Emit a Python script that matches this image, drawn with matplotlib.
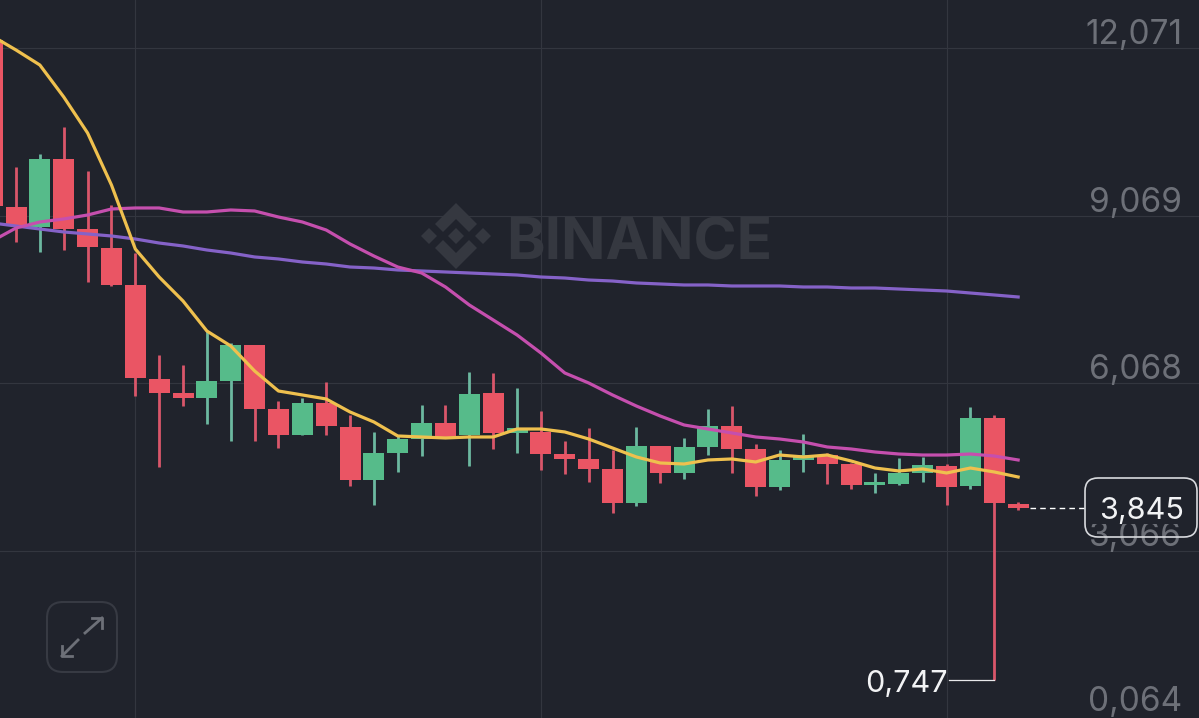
import numpy as np
import matplotlib
matplotlib.use('Agg')
import matplotlib.pyplot as plt
from matplotlib.patches import FancyBboxPatch, Polygon, Rectangle

# candles, oldest first (the first one is cut by the left edge)
opens = [12.223, 9.231, 8.872, 10.091, 8.836, 8.496, 7.833, 6.148, 5.897, 5.808, 6.112,
         6.758, 5.611, 5.145, 5.718, 5.288, 4.338, 4.822, 5.073, 5.360, 5.145, 5.897,
         5.181, 5.199, 4.804, 4.715, 4.536, 3.926, 4.948, 4.464, 4.930, 5.306, 4.894,
         4.213, 4.697, 4.786, 4.625, 4.249, 4.267, 4.464, 4.589, 4.231, 5.449, 3.908]
highs = [12.223, 9.947, 10.180, 10.664, 9.876, 9.266, 8.406, 6.578, 6.399, 7.008, 6.793,
         6.758, 5.754, 5.808, 6.095, 5.503, 5.199, 5.127, 5.682, 5.682, 6.274, 6.256,
         5.987, 5.575, 5.037, 5.270, 4.876, 5.288, 4.948, 5.091, 5.611, 5.664, 4.984,
         4.876, 5.163, 4.822, 4.643, 4.464, 4.733, 4.751, 4.625, 5.647, 5.503, 3.944]
lows = [9.248, 8.603, 8.424, 8.460, 7.887, 7.815, 5.844, 4.571, 5.664, 5.342, 5.037,
        5.037, 4.912, 5.145, 5.145, 4.231, 3.890, 4.482, 4.768, 5.091, 4.589, 4.894,
        4.822, 4.518, 4.446, 4.303, 3.747, 3.872, 4.285, 4.356, 4.786, 4.464, 4.052,
        4.159, 4.482, 4.267, 4.177, 4.105, 4.249, 4.303, 3.890, 4.177, 0.747, 3.801]
closes = [9.248, 8.908, 10.091, 8.836, 8.514, 7.833, 6.166, 5.897, 5.808, 6.112, 6.758,
          5.611, 5.145, 5.718, 5.306, 4.338, 4.822, 5.073, 5.360, 5.109, 5.880, 5.181,
          5.270, 4.804, 4.715, 4.536, 3.926, 4.948, 4.464, 4.930, 5.306, 4.894, 4.213,
          4.697, 4.786, 4.625, 4.249, 4.303, 4.464, 4.607, 4.213, 5.449, 3.926, 3.845]

ma_fast = [12.295, 12.044, 11.775, 11.202, 10.557, 9.625, 8.478, 7.976, 7.546, 7.008, 6.740,
           6.292, 5.933, 5.862, 5.790, 5.557, 5.378, 5.127, 5.109, 5.091, 5.109, 5.109,
           5.252, 5.252, 5.199, 5.073, 4.912, 4.751, 4.643, 4.625, 4.697, 4.715, 4.661,
           4.786, 4.751, 4.786, 4.679, 4.553, 4.500, 4.536, 4.464, 4.553, 4.482, 4.392]
ma_mid = [8.621, 8.854, 8.962, 9.016, 9.087, 9.195, 9.213, 9.213, 9.141, 9.141, 9.177,
          9.159, 9.051, 8.962, 8.818, 8.568, 8.352, 8.155, 8.048, 7.797, 7.474, 7.206,
          6.937, 6.614, 6.256, 6.077, 5.862, 5.664, 5.485, 5.324, 5.252, 5.181, 5.109,
          5.073, 5.019, 4.930, 4.894, 4.840, 4.804, 4.786, 4.786, 4.804, 4.768, 4.697]
ma_slow = [8.944, 8.890, 8.836, 8.783, 8.747, 8.711, 8.657, 8.585, 8.532, 8.460, 8.406,
           8.335, 8.299, 8.245, 8.209, 8.155, 8.137, 8.102, 8.084, 8.066, 8.048, 8.030,
           8.012, 7.976, 7.958, 7.922, 7.904, 7.869, 7.851, 7.833, 7.833, 7.815, 7.815,
           7.815, 7.797, 7.797, 7.779, 7.779, 7.761, 7.743, 7.725, 7.689, 7.654, 7.618]

price_ticks = [12.071, 9.069, 6.068, 3.066, 0.064]
price_labels = ['12,071', '9,069', '6,068', '3,066', '0,064']
last_label = '3,845'
low_label = '0,747'

BG = '#20232c'
GRID = '#33363f'
RED = '#ea5564'
GREEN = '#56bb8a'
RED_WICK = '#d9566a'
GREEN_WICK = '#6cb8a0'

plt.rcParams['font.family'] = ['Inter', 'DejaVu Sans']

fig = plt.figure(figsize=(11.99, 7.18), dpi=100, facecolor=BG)
ax = fig.add_axes([0, 0, 1, 1], facecolor=BG)
ov = fig.add_axes([0, 0, 1, 1], facecolor='none')  # chrome, in image pixels
ov.axis('off')

k = np.arange(len(opens))
o = np.array(opens)
c = np.array(closes)
up = c >= o

ax.vlines(k, lows, highs, colors=[GREEN_WICK if u else RED_WICK for u in up], lw=2.0, zorder=2)
ax.bar(k, np.abs(o - c), bottom=np.minimum(o, c), width=0.88,
       color=[GREEN if u else RED for u in up], zorder=3)

ax.plot(k, ma_slow, color='#8562c8', lw=2.3, zorder=4)
ax.plot(k, ma_mid, color='#c54fae', lw=2.3, zorder=5)
ax.plot(k, ma_fast, color='#efc04e', lw=2.3, zorder=6)

ax.set_xlim(0.329, 50.58)
ax.set_ylim(0.073, 12.94)
ax.set_xticks([6, 23, 40])
ax.set_yticks(price_ticks[:-1])
ax.set_xticklabels([])
ax.set_yticklabels([])
ax.tick_params(length=0)
ax.grid(True, color=GRID, lw=0.8)
ax.set_axisbelow(True)
for s in ax.spines.values():
    s.set_visible(False)

for val, lab in zip(price_ticks, price_labels):
    off = 20 if lab == '0,064' else 17
    ax.annotate(lab, xy=(1, val), xycoords=ax.get_yaxis_transform(), xytext=(-17, off),
                textcoords='offset pixels', ha='right', va='center_baseline', color='#6d7078', fontsize=24)

# last price: dashed line, then the boxed label over the 3,066 tick
ax.plot([43.5, 45.8], [closes[-1], closes[-1]], color='white', lw=1, ls=(0, (4, 3)), zorder=6)
ov.add_patch(Rectangle((1088, 480), 106, 44, color=BG, lw=0))
ov.add_patch(FancyBboxPatch((1085, 478), 112, 59, boxstyle='round,pad=0,rounding_size=13',
                            fc='none', ec='#d8dade', lw=1.2))
ov.annotate(last_label, xy=(1, closes[-1]), xycoords=ax.get_yaxis_transform(), xytext=(-15, 0),
            textcoords='offset pixels', ha='right', va='center_baseline', color='#f2f3f5', fontsize=22)

# lowest wick label
low_k = k[int(np.argmin(lows))]
ax.plot([low_k - 1.9, low_k], [min(lows), min(lows)], color='#e8e9eb', lw=0.9, zorder=2)
ov.annotate(low_label, xy=(low_k, min(lows)), xycoords=ax.transData, xytext=(-47, -1),
            textcoords='offset pixels', ha='right', va='center_baseline', color='#f2f3f5', fontsize=22)

# watermark
WM = '#353840'
ov.add_patch(Polygon([(456, 203), (477, 224), (469, 232), (456, 219), (443, 232), (435, 224)], fc=WM, lw=0))
ov.add_patch(Polygon([(456, 269), (477, 248), (469, 240), (456, 253), (443, 240), (435, 248)], fc=WM, lw=0))
for cx in [429, 456, 483]:
    ov.add_patch(Polygon([(cx, 228), (cx + 8, 236), (cx, 244), (cx - 8, 236)], fc=WM, lw=0))
ov.text(506, 238, 'BINANCE', color=WM, fontsize=42, fontweight='bold', ha='left', va='center_baseline')

# expand button
ov.add_patch(FancyBboxPatch((47, 602), 70, 70, boxstyle='round,pad=0,rounding_size=16',
                            fc='none', ec='#373a43', lw=1.5))
ov.plot([85, 102], [633, 618], color='#6d7078', lw=2)
ov.plot([92, 102, 102], [618, 618, 628], color='#6d7078', lw=2)
ov.plot([78, 62], [640, 656], color='#6d7078', lw=2)
ov.plot([62, 62, 72], [646, 656, 656], color='#6d7078', lw=2)
ov.set_xlim(0, 1199)
ov.set_ylim(718, 0)

fig.savefig('out.png', dpi=100, facecolor=BG)
